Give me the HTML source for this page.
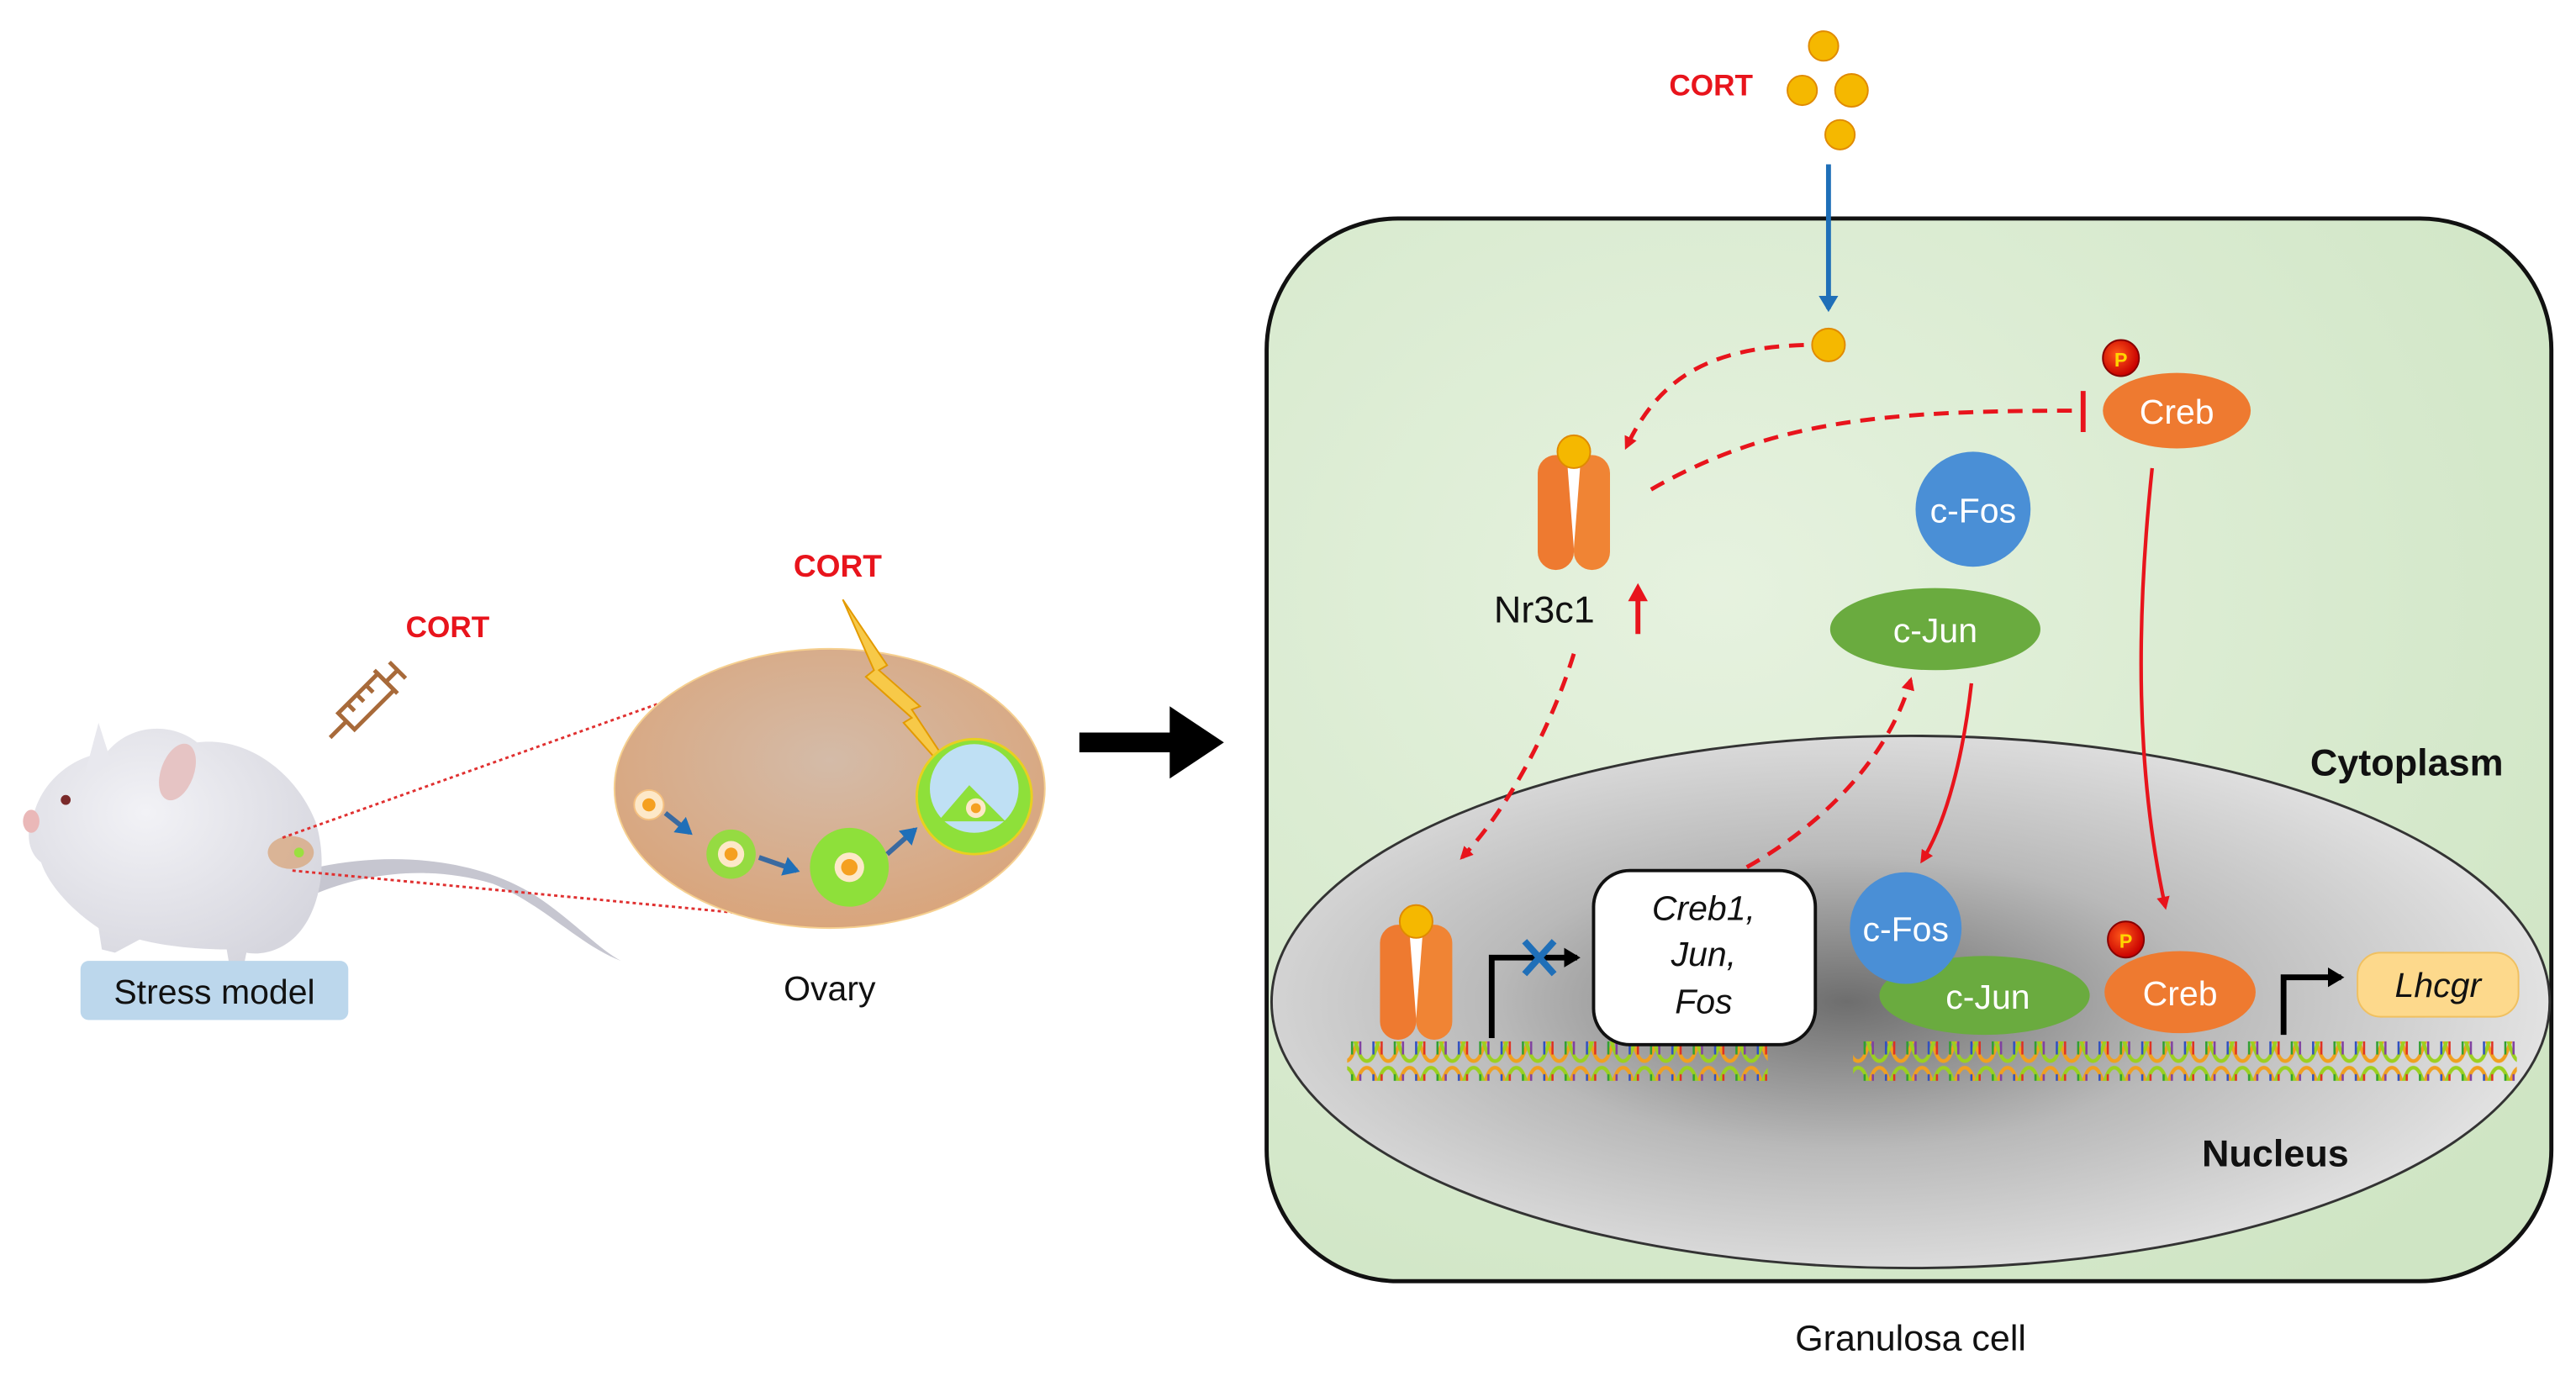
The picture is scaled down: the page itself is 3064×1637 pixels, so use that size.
<!DOCTYPE html>
<html><head><meta charset="utf-8"><style>
html,body{margin:0;padding:0;background:#fff;}
svg{display:block;}
text{font-family:"Liberation Sans",Arial,sans-serif;}
</style></head><body>
<svg width="3064" height="1637" viewBox="0 0 1568 837.7" xmlns="http://www.w3.org/2000/svg">
<defs>
<radialGradient id="cellg" cx="0.35" cy="0.35" r="0.8">
<stop offset="0" stop-color="#e6f2df"/><stop offset="1" stop-color="#cfe5c4"/></radialGradient>
<radialGradient id="nucg" cx="0.45" cy="0.5" r="0.55">
<stop offset="0" stop-color="#6e6e6e"/><stop offset="0.5" stop-color="#b9b9b9"/><stop offset="1" stop-color="#e2e2e2"/></radialGradient>
<radialGradient id="ovg" cx="0.5" cy="0.4" r="0.6">
<stop offset="0" stop-color="#d4bba8"/><stop offset="1" stop-color="#d9a57c"/></radialGradient>
<radialGradient id="mg" cx="0.4" cy="0.35" r="0.7">
<stop offset="0" stop-color="#f2f2f6"/><stop offset="1" stop-color="#d6d6de"/></radialGradient>
<radialGradient id="pg" cx="0.4" cy="0.4" r="0.6"><stop offset="0" stop-color="#ff5a1a"/><stop offset="1" stop-color="#c80000"/></radialGradient>
<pattern id="dna" x="0" y="0" width="26" height="24" patternUnits="userSpaceOnUse">
<path d="M0,2 C6.5,2 6.5,22 13,22 C19.5,22 19.5,2 26,2" fill="none" stroke="#f0a020" stroke-width="2.2"/>
<path d="M0,22 C6.5,22 6.5,2 13,2 C19.5,2 19.5,22 26,22" fill="none" stroke="#9bd020" stroke-width="2.2"/>
<line x1="4" y1="6" x2="4" y2="18" stroke="#3050c0" stroke-width="1.3"/>
<line x1="9" y1="6" x2="9" y2="18" stroke="#e03020" stroke-width="1.3"/>
<line x1="17" y1="6" x2="17" y2="18" stroke="#30a030" stroke-width="1.3"/>
<line x1="22" y1="6" x2="22" y2="18" stroke="#8040a0" stroke-width="1.3"/>
</pattern>
<marker id="ar" markerWidth="8" markerHeight="8" refX="6" refY="4" orient="auto" markerUnits="userSpaceOnUse"><path d="M0,0 L8,4 L0,8 z" fill="#e8141c"/></marker>
<marker id="ab" markerWidth="12" markerHeight="12" refX="8" refY="6" orient="auto" markerUnits="userSpaceOnUse"><path d="M0,0 L10,6 L0,12 z" fill="#1f6fb8"/></marker>
<marker id="ak" markerWidth="12" markerHeight="12" refX="8" refY="6" orient="auto" markerUnits="userSpaceOnUse"><path d="M0,0 L10,6 L0,12 z" fill="#000"/></marker>
<g id="rec">
<rect x="-22" y="-35" width="22" height="70" rx="11" fill="#ee7a30"/>
<rect x="0" y="-35" width="22" height="70" rx="11" fill="#f08434"/>
<path d="M-4,-30 L4,-30 L0,22 z" fill="#fff"/>
<circle cx="0" cy="-37" r="10" fill="#f5b800" stroke="#e08a00" stroke-width="1"/>
</g>
</defs>

<!-- LEFT: mouse -->
<text x="247" y="388" font-size="18" font-weight="bold" fill="#e8141c">CORT</text>
<g transform="translate(225,425) rotate(-45)" stroke="#a86a3a" stroke-width="2.5" fill="none">
<rect x="-20" y="-7" width="34" height="14"/><line x1="14" y1="-10" x2="14" y2="10"/><line x1="14" y1="0" x2="24" y2="0"/><line x1="24" y1="-7" x2="24" y2="7"/><line x1="-20" y1="0" x2="-34" y2="0"/>
<line x1="-12" y1="-7" x2="-12" y2="-1"/><line x1="-4" y1="-7" x2="-4" y2="-1"/><line x1="4" y1="-7" x2="4" y2="-1"/>
</g>
<path d="M185,530 C230,518 290,520 330,548 C350,562 365,578 378,585 C352,575 330,550 300,538 C260,526 220,532 190,545 z" fill="#c6c6d0"/>
<path d="M20,498 C25,475 45,460 65,458 C80,440 105,440 120,452 C150,448 180,470 192,500 C200,525 195,555 180,570 C172,578 160,582 150,580 L148,590 L140,590 L138,578 C120,578 100,576 85,572 L70,580 L62,578 L60,565 C45,555 30,540 25,525 C18,520 15,508 20,498 z" fill="url(#mg)"/>
<ellipse cx="108" cy="470" rx="10" ry="18" fill="#e6c4c4" transform="rotate(20 108 470)"/>
<path d="M52,470 L60,440 L68,465 z" fill="#e8e8ee"/>
<circle cx="40" cy="487" r="3" fill="#7a2a2a"/>
<ellipse cx="19" cy="500" rx="5" ry="7" fill="#eab8b8"/>
<ellipse cx="177" cy="519" rx="14" ry="10" fill="#d8a982" opacity="0.8"/>
<circle cx="182" cy="519" r="3" fill="#9be040"/>
<line x1="172" y1="510" x2="430" y2="418" stroke="#e03030" stroke-width="1.5" stroke-dasharray="2,2"/>
<line x1="178" y1="530" x2="462" y2="557" stroke="#e03030" stroke-width="1.5" stroke-dasharray="2,2"/>
<rect x="49" y="585" width="163" height="36" rx="5" fill="#bcd7ec"/>
<text x="130.5" y="611" font-size="21" text-anchor="middle" fill="#111">Stress model</text>

<!-- ovary -->
<ellipse cx="505" cy="480" rx="131" ry="85" fill="url(#ovg)" stroke="#f6d090" stroke-width="1"/>
<text x="483" y="351" font-size="19" font-weight="bold" fill="#e8141c">CORT</text>
<path d="M513,365 L540,405 L535,408 L560,430 L555,432 L590,485 L550,440 L555,437 L527,412 L532,408 z" fill="#f7c948" stroke="#e39a00" stroke-width="1"/>
<circle cx="395" cy="490" r="9" fill="#fde8c8" stroke="#f5c080"/><circle cx="395" cy="490" r="4" fill="#f5a020"/>
<circle cx="445" cy="520" r="15" fill="#8ee03a" opacity="0.9"/><circle cx="445" cy="520" r="8" fill="#fde8c8"/><circle cx="445" cy="520" r="4" fill="#f5a020"/>
<circle cx="517" cy="528" r="24" fill="#8ee03a"/><circle cx="517" cy="528" r="9" fill="#fde8c8"/><circle cx="517" cy="528" r="5" fill="#f5a020"/>
<circle cx="593" cy="485" r="35" fill="#8ee03a" stroke="#e8d020" stroke-width="1.5"/><circle cx="593" cy="480" r="27" fill="#bfe0f4"/>
<path d="M571,500 L590,478 L612,500 z" fill="#8ee03a"/><circle cx="594" cy="492" r="6" fill="#fde8c8"/><circle cx="594" cy="492" r="3" fill="#f5a020"/>
<path d="M405,495 L420,507" stroke="#3a6aa0" stroke-width="3" marker-end="url(#ab)"/>
<path d="M462,522 L485,530" stroke="#3a6aa0" stroke-width="3" marker-end="url(#ab)"/>
<path d="M540,520 L557,505" stroke="#3a6aa0" stroke-width="3" marker-end="url(#ab)"/>
<text x="505" y="609" font-size="21" text-anchor="middle" fill="#111">Ovary</text>

<!-- big arrow -->
<path d="M657,446 L712,446 L712,430 L745,452 L712,474 L712,458 L657,458 z" fill="#000"/>

<!-- CELL -->
<rect x="771" y="133" width="782" height="647" rx="80" fill="url(#cellg)" stroke="#111" stroke-width="2.5"/>
<ellipse cx="1163" cy="610" rx="389" ry="162" fill="url(#nucg)" stroke="#333" stroke-width="1.5"/>

<text x="1016" y="58" font-size="18" font-weight="bold" fill="#e8141c">CORT</text>
<g fill="#f5b800" stroke="#e08a00" stroke-width="1">
<circle cx="1110" cy="28" r="9"/><circle cx="1097" cy="55" r="9"/><circle cx="1127" cy="55" r="10"/><circle cx="1120" cy="82" r="9"/>
<circle cx="1113" cy="210" r="10"/></g>
<line x1="1113" y1="100" x2="1113" y2="188" stroke="#1f6fb8" stroke-width="3" marker-end="url(#ab)"/>

<g fill="none" stroke="#e8141c" stroke-width="2.5" stroke-dasharray="9,6">
<path d="M1098,210 C1040,212 1010,230 990,272" marker-end="url(#ar)"/>
<path d="M1005,298 C1080,255 1150,250 1266,250"/>
<path d="M958,398 C945,440 920,490 890,522" marker-end="url(#ar)"/>
<path d="M1050,535 C1110,505 1150,460 1163,414" marker-end="url(#ar)"/>
</g>
<line x1="1268" y1="238" x2="1268" y2="263" stroke="#e8141c" stroke-width="3"/>
<g fill="none" stroke="#e8141c" stroke-width="2.2">
<path d="M1310,285 C1300,380 1300,470 1318,552" marker-end="url(#ar)"/>
<path d="M1200,416 C1195,460 1185,500 1170,524" marker-end="url(#ar)"/>
</g>

<use href="#rec" x="958" y="312"/>
<text x="940" y="379" font-size="23" text-anchor="middle" fill="#111">Nr3c1</text>
<line x1="997" y1="386" x2="997" y2="364" stroke="#e8141c" stroke-width="3"/><path d="M991,366 L997,355 L1003,366 z" fill="#e8141c"/>

<ellipse cx="1325" cy="250" rx="45" ry="23" fill="#ee7a30"/>
<text x="1325" y="258" font-size="21" text-anchor="middle" fill="#fff">Creb</text>
<circle cx="1291" cy="218" r="11" fill="url(#pg)" stroke="#800" stroke-width="1"/>
<text x="1291" y="223" font-size="12" font-weight="bold" text-anchor="middle" fill="#ffd400">P</text>

<circle cx="1201" cy="310" r="35" fill="#4a8fd6"/>
<text x="1201" y="318" font-size="21" text-anchor="middle" fill="#fff">c-Fos</text>
<ellipse cx="1178" cy="383" rx="64" ry="25" fill="#6aab3f"/>
<text x="1178" y="391" font-size="21" text-anchor="middle" fill="#fff">c-Jun</text>

<text x="1465" y="472" font-size="23" font-weight="bold" text-anchor="middle" fill="#111">Cytoplasm</text>
<text x="1385" y="710" font-size="23" font-weight="bold" text-anchor="middle" fill="#111">Nucleus</text>

<!-- DNA -->
<rect x="820" y="634" width="256" height="24" fill="url(#dna)"/>
<rect x="1128" y="634" width="404" height="24" fill="url(#dna)"/>

<use href="#rec" x="862" y="598"/>
<path d="M908,632 L908,583 L960,583" fill="none" stroke="#000" stroke-width="3.5" marker-end="url(#ak)"/>
<g stroke="#1f6fb8" stroke-width="4"><line x1="928" y1="573" x2="946" y2="593"/><line x1="946" y1="573" x2="928" y2="593"/></g>
<rect x="970" y="530" width="135" height="106" rx="22" fill="#fff" stroke="#111" stroke-width="2"/>
<g font-size="21" font-style="italic" text-anchor="middle" fill="#111">
<text x="1037" y="560">Creb1,</text><text x="1037" y="588">Jun,</text><text x="1037" y="617">Fos</text></g>

<ellipse cx="1208" cy="606" rx="64" ry="24" fill="#6aab3f"/>
<text x="1210" y="614" font-size="21" text-anchor="middle" fill="#fff">c-Jun</text>
<circle cx="1160" cy="565" r="34" fill="#4a8fd6"/>
<text x="1160" y="573" font-size="21" text-anchor="middle" fill="#fff">c-Fos</text>
<ellipse cx="1327" cy="604" rx="46" ry="25" fill="#ee7a30"/>
<text x="1327" y="612" font-size="21" text-anchor="middle" fill="#fff">Creb</text>
<circle cx="1294" cy="572" r="11" fill="url(#pg)" stroke="#800" stroke-width="1"/>
<text x="1294" y="577" font-size="12" font-weight="bold" text-anchor="middle" fill="#ffd400">P</text>

<path d="M1390,630 L1390,595 L1425,595" fill="none" stroke="#000" stroke-width="3.5" marker-end="url(#ak)"/>
<rect x="1435" y="580" width="98" height="39" rx="14" fill="#fdd98c" stroke="#f0c060" stroke-width="1"/>
<text x="1484" y="607" font-size="21" font-style="italic" text-anchor="middle" fill="#111">Lhcgr</text>

<text x="1163" y="822" font-size="22" text-anchor="middle" fill="#111">Granulosa cell</text>
</svg>
</body></html>
